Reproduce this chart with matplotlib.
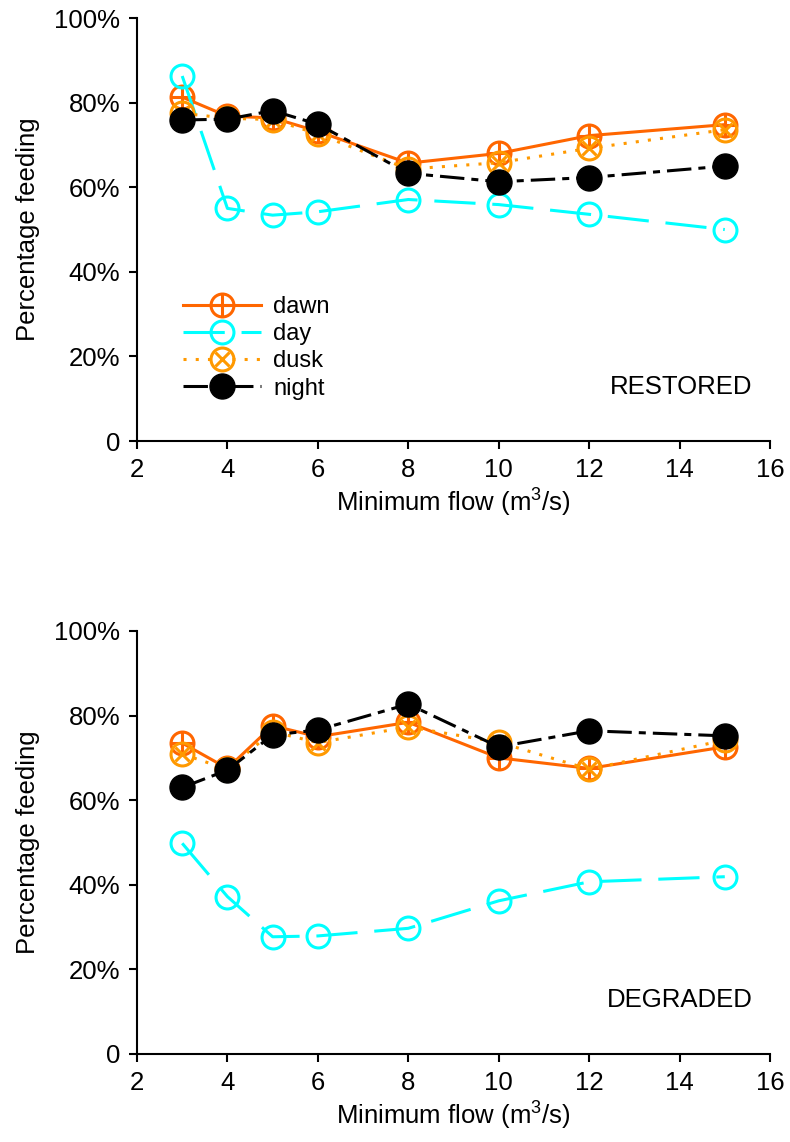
import matplotlib
matplotlib.use("Agg")
import matplotlib.pyplot as plt
from matplotlib.ticker import FuncFormatter
from matplotlib.legend_handler import HandlerTuple

plt.rcParams['font.family'] = ['Liberation Sans', 'DejaVu Sans']
plt.rcParams['mathtext.fontset'] = 'custom'
plt.rcParams['mathtext.rm'] = 'Liberation Sans'
plt.rcParams['mathtext.it'] = 'Liberation Sans:italic'

flows = [3, 4, 5, 6, 8, 10, 12, 15]

restored_dawn = [81.3, 76.8, 76.4, 73.2, 65.7, 68.0, 72.2, 74.8]
restored_day = [86.3, 55.0, 53.4, 54.2, 57.1, 55.9, 53.6, 50.0]
restored_dusk = [77.5, 76.3, 76.0, 72.6, 64.3, 65.8, 69.2, 73.6]
restored_night = [75.9, 76.1, 78.1, 74.9, 63.3, 61.3, 62.3, 65.0]

degraded_dawn = [73.5, 67.5, 77.6, 75.0, 78.4, 70.0, 67.5, 72.6]
degraded_day = [49.8, 37.2, 27.7, 27.9, 29.7, 36.2, 40.7, 41.9]
degraded_dusk = [70.9, 67.3, 76.2, 73.6, 77.3, 73.7, 67.3, 74.2]
degraded_night = [63.0, 67.1, 75.4, 76.6, 82.7, 72.6, 76.4, 75.2]

series_names = ["dawn", "day", "dusk", "night"]
colors = {"dawn": "#FF6600", "day": "#00FFFF", "dusk": "#FF9900", "night": "#000000"}

FS = 18.5

fig = plt.figure(figsize=(7.9, 11.42), dpi=100)
ax1 = fig.add_axes([0.1734, 0.6138, 0.8013, 0.3704])
ax2 = fig.add_axes([0.1734, 0.0771, 0.8013, 0.3704])


def draw(ax, dawn, day, dusk, night, label, legend=False):
    lw = 2.2
    ms = 16.5
    mew = 2.2
    handles = []
    l1, = ax.plot(flows, dawn, color=colors["dawn"], lw=lw, ls='-', marker='o',
                  ms=ms, mfc='none', mec=colors["dawn"], mew=mew, zorder=3)
    m1, = ax.plot(flows, dawn, ls='none', marker='+', ms=ms * 0.95,
                  mec=colors["dawn"], mew=mew, zorder=3)
    handles.append((l1, m1))
    l2, = ax.plot(flows, day, color=colors["day"], lw=lw, ls=(0, (13.5, 5.5)),
                  marker='o', ms=ms, mfc='none', mec=colors["day"], mew=mew, zorder=4)
    handles.append(l2)
    l3, = ax.plot(flows, dusk, color=colors["dusk"], lw=lw, ls=(0, (1, 3)),
                  marker='o', ms=ms, mfc='none', mec=colors["dusk"], mew=mew, zorder=5)
    m3, = ax.plot(flows, dusk, ls='none', marker='x', ms=ms * 0.62,
                  mec=colors["dusk"], mew=mew, zorder=5)
    handles.append((l3, m3))
    l4, = ax.plot(flows, night, color=colors["night"], lw=lw,
                  ls=(0, (8, 2.3, 2.3, 2.3)), marker='o', ms=ms + 1.5,
                  mfc='black', mec='black', zorder=6)
    handles.append(l4)

    ax.set_xlim(2, 16)
    ax.set_ylim(0, 100)
    ax.set_xticks(range(2, 17, 2))
    ax.set_yticks(range(0, 101, 20))
    ax.yaxis.set_major_formatter(FuncFormatter(lambda v, p: "0" if v == 0 else f"{int(v)}%"))
    for s in ['top', 'right']:
        ax.spines[s].set_visible(False)
    for s in ['left', 'bottom']:
        ax.spines[s].set_linewidth(1.5)
    ax.tick_params(direction='out', length=6, width=1.5, labelsize=FS, pad=6)
    ax.set_xlabel(r'Minimum flow (m$^{\mathregular{3}}$/s)', fontsize=FS, labelpad=4)
    ax.set_ylabel('Percentage feeding', fontsize=FS, labelpad=10)
    ax.text(0.972, 0.128, label, transform=ax.transAxes, ha='right', va='center',
            fontsize=FS)
    if legend:
        ax.legend(handles, series_names, loc='upper left', bbox_to_anchor=(0.047, 0.382),
                  frameon=False, fontsize=17, handlelength=3.3, labelspacing=0.22,
                  handletextpad=0.5, borderpad=0.2,
                  handler_map={tuple: HandlerTuple(ndivide=1)})


draw(ax1, restored_dawn, restored_day, restored_dusk, restored_night, "RESTORED", legend=True)
draw(ax2, degraded_dawn, degraded_day, degraded_dusk, degraded_night, "DEGRADED")

fig.savefig("out.png", dpi=100)
